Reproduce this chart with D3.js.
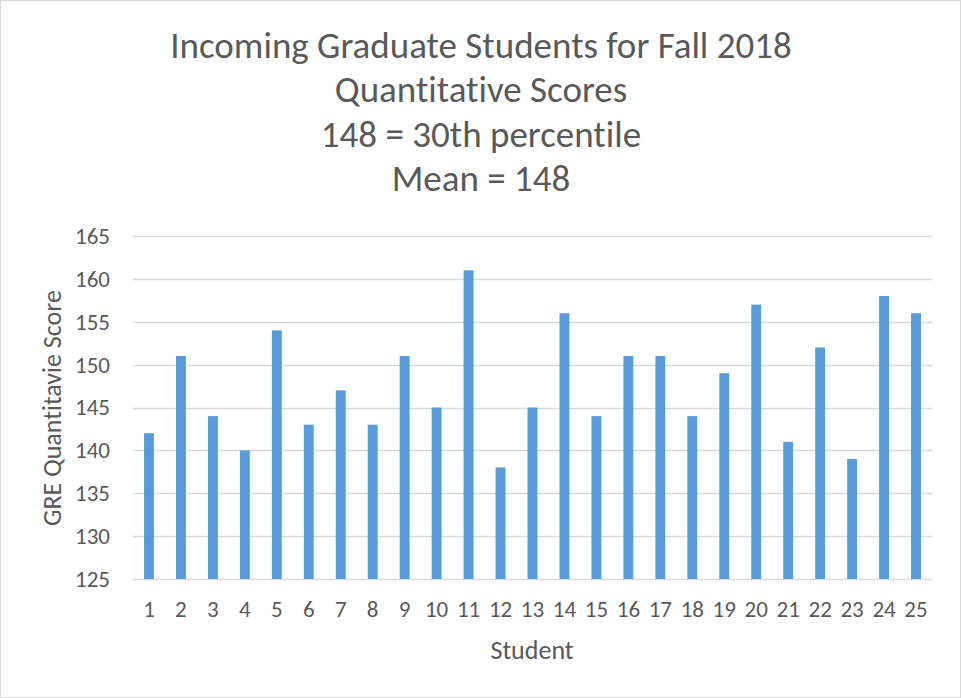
<!DOCTYPE html>
<html>
<head>
<meta charset="utf-8">
<script src="https://cdn.jsdelivr.net/npm/d3@7"></script>
<style>
  body { margin: 0; background: #fff; }
  text { font-family: Carlito, Calibri, "Open Sans", sans-serif; fill: #595959; font-variant-ligatures: none; }
</style>
</head>
<body>
<script>
var width = 961;
var height = 698;
var margin = { top: 236, right: 29, bottom: 119, left: 133 };

// dati del grafico
var students = d3.range(1, 26).map(String);
var scores = [142, 151, 144, 140, 154, 143, 147, 143, 151, 145, 161, 138, 145,
              156, 144, 151, 151, 144, 149, 157, 141, 152, 139, 158, 156];
var yTicks = [125, 130, 135, 140, 145, 150, 155, 160, 165];
var titleLines = ['Incoming Graduate Students for Fall 2018', 'Quantitative Scores',
                  '148 = 30th percentile', 'Mean = 148'];

var svg = d3.select('body').append('svg')
  .attr('width', width)
  .attr('height', height);

// bordo esterno
svg.append('rect')
  .attr('x', 0.5).attr('y', 0.5)
  .attr('width', width - 1).attr('height', height - 1)
  .style('fill', '#fff')
  .style('stroke', '#d9d9d9');

var x = d3.scaleBand().domain(students)
  .range([margin.left, width - margin.right])
  .paddingInner(0.69).paddingOuter(0.345);
var y = d3.scaleLinear().domain([125, 165]).range([height - margin.bottom, margin.top]);

// griglia
svg.append('g')
  .selectAll('line')
  .data(yTicks)
  .enter()
  .append('line')
  .attr('x1', margin.left)
  .attr('x2', width - margin.right)
  .attr('y1', function (d) { return Math.round(y(d)) + 0.5 })
  .attr('y2', function (d) { return Math.round(y(d)) + 0.5 })
  .style('stroke', '#d9d9d9')
  .style('stroke-width', 1.5);

// barre
svg.append('g')
  .selectAll('rect')
  .data(scores)
  .enter()
  .append('rect')
  .attr('x', function (d, i) { return x(students[i]) })
  .attr('y', function (d) { return y(d) })
  .attr('width', x.bandwidth())
  .attr('height', function (d) { return y(125) - y(d) })
  .style('fill', '#5b9bd5');

// asse y
var yAxis = svg.append('g')
  .attr('transform', 'translate(' + (margin.left - 23) + ',0)')
  .call(d3.axisLeft(y).tickValues(yTicks).tickSize(0).tickPadding(0));
yAxis.select('.domain').remove();
yAxis.selectAll('text').style('font-size', '23px').style('fill', '#595959');

// asse x
var xAxis = svg.append('g')
  .attr('transform', 'translate(0,' + (height - margin.bottom) + ')')
  .call(d3.axisBottom(x).tickSize(0).tickPadding(22));
xAxis.select('.domain').remove();
xAxis.selectAll('text').style('font-size', '23px').style('fill', '#595959');

// titolo
svg.append('g')
  .selectAll('text')
  .data(titleLines)
  .enter()
  .append('text')
  .attr('x', 481)
  .attr('y', function (d, i) { return 58 + i * 44.4 })
  .attr('text-anchor', 'middle')
  .style('font-size', '37px')
  .text(function (d) { return d });

// etichette assi
svg.append('text')
  .attr('x', 532)
  .attr('y', 659)
  .attr('text-anchor', 'middle')
  .style('font-size', '26px')
  .text('Student');

svg.append('text')
  .attr('transform', 'translate(61,408) rotate(-90)')
  .attr('text-anchor', 'middle')
  .style('font-size', '26px')
  .text('GRE Quantitavie Score');
</script>
</body>
</html>
